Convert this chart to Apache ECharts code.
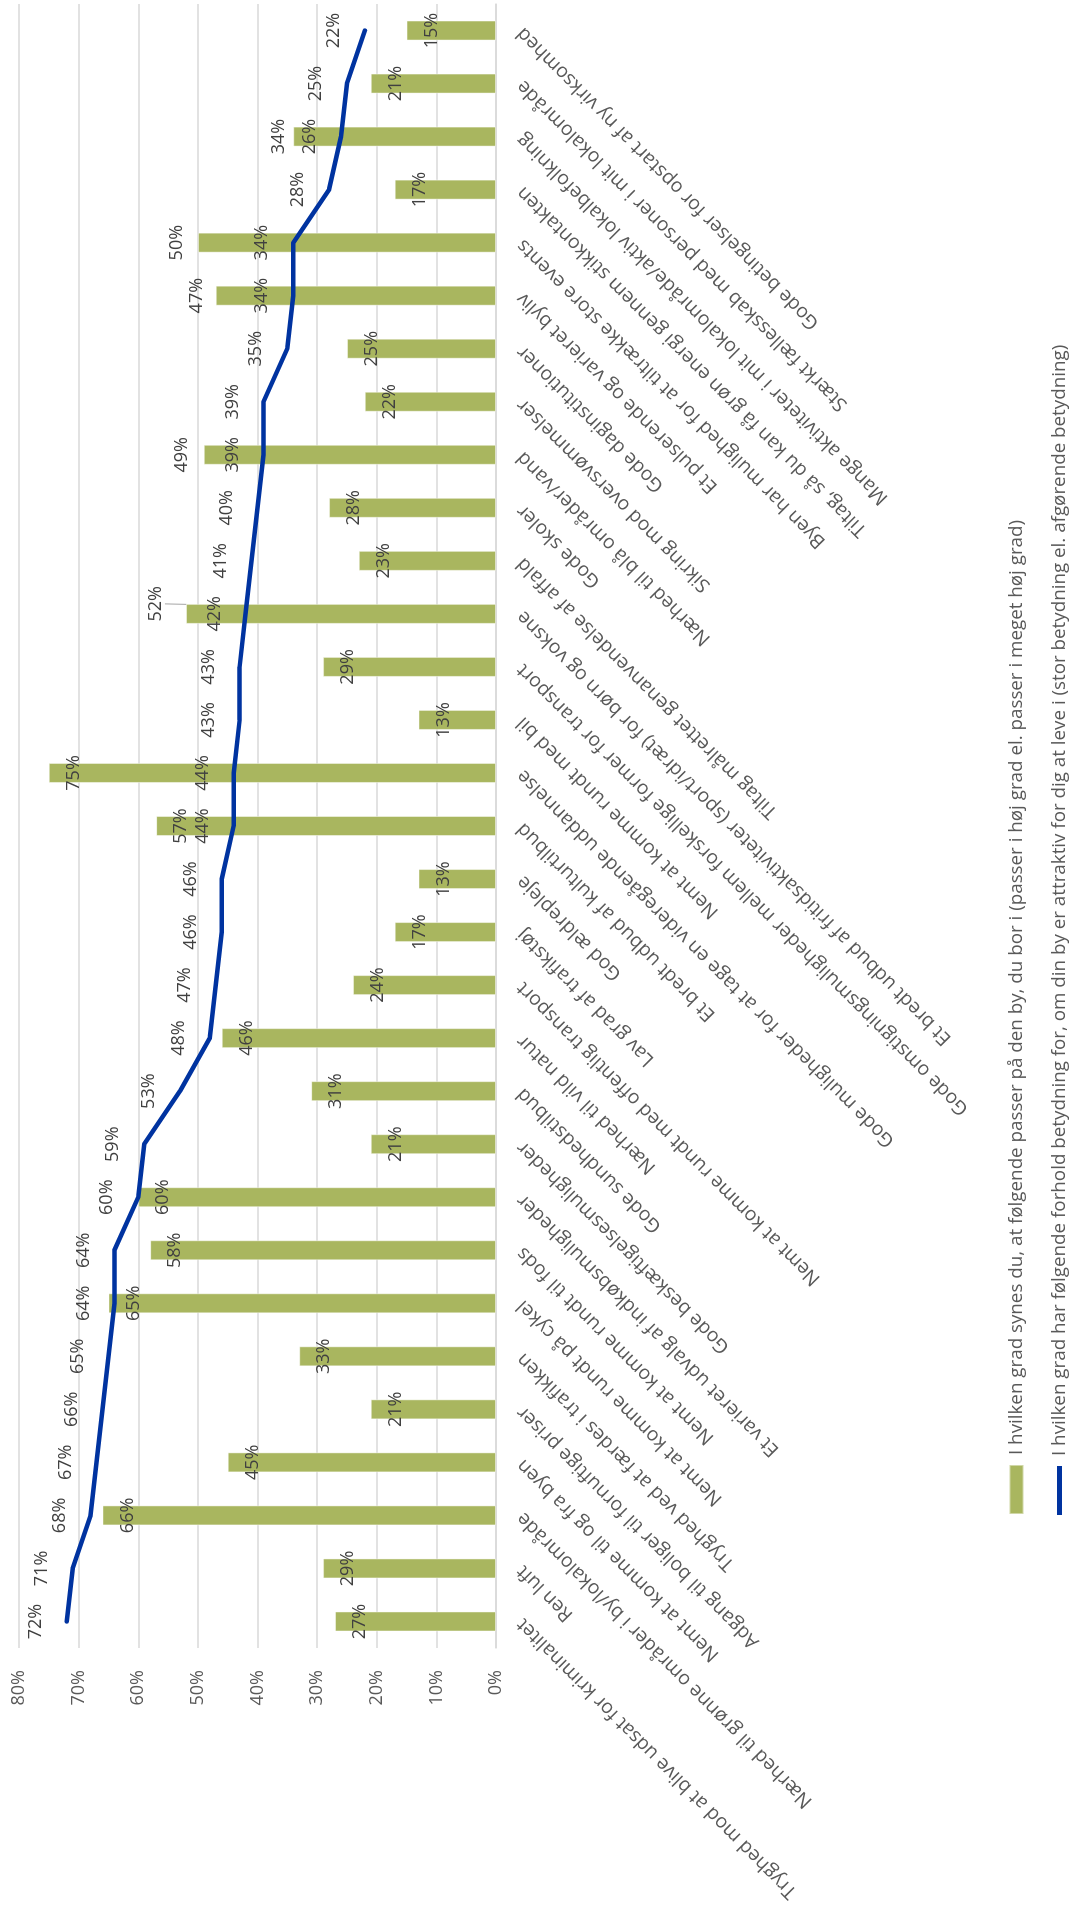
<!DOCTYPE html>
<html>
<head>
<meta charset="utf-8">
<script src="https://cdn.jsdelivr.net/npm/echarts@6/dist/echarts.min.js"></script>
<style>
html,body{margin:0;padding:0;background:#ffffff;overflow:hidden;width:1070px;height:1910px;}
#chart{position:absolute;left:0;top:0;width:1910px;height:1070px;transform-origin:0 0;transform:translate(0,1910px) rotate(-90deg);background:#ffffff;}
</style>
</head>
<body>
<div id="chart"></div>
<script>
// Data (original chart order: left to right before rotation)
const categories = [
  "Tryghed mod at blive udsat for kriminalitet",
  "Ren luft",
  "Nærhed til grønne områder i by/lokalområde",
  "Nemt at komme til og fra byen",
  "Adgang til boliger til fornuftige priser",
  "Tryghed ved at færdes i trafikken",
  "Nemt at komme rundt på cykel",
  "Nemt at komme rundt til fods",
  "Et varieret udvalg af indkøbsmuligheder",
  "Gode beskæftigelsesmuligheder",
  "Gode sundhedstilbud",
  "Nærhed til vild natur",
  "Nemt at komme rundt med offentlig transport",
  "Lav grad af trafikstøj",
  "God ældrepleje",
  "Et bredt udbud af kulturtilbud",
  "Gode muligheder for at tage en videregående uddannelse",
  "Nemt at komme rundt med bil",
  "Gode omstigningsmuligheder mellem forskellige former for transport",
  "Et bredt udbud af fritidsaktiviteter (sport/idræt) for børn og voksne",
  "Tiltag målrettet genanvendelse af affald",
  "Gode skoler",
  "Nærhed til blå områder/vand",
  "Sikring mod oversvømmelser",
  "Gode daginstitutioner",
  "Et pulserende og varieret byliv",
  "Byen har mulighed for at tiltrække store events",
  "Tiltag, så du kan få grøn energi gennem stikkontakten",
  "Mange aktiviteter i mit lokalområde/aktiv lokalbefolkning",
  "Stærkt fællesskab med personer i mit lokalområde",
  "Gode betingelser for opstart af ny virksomhed"
];
const barValues = [27, 29, 66, 45, 21, 33, 65, 58, 60, 21, 31, 46, 24, 17, 13, 57, 75, 13, 29, 52, 23, 28, 49, 22, 25, 47, 50, 17, 34, 21, 15];
const lineValues = [72, 71, 68, 67, 66, 65, 64, 64, 60, 59, 53, 48, 47, 46, 46, 44, 44, 43, 43, 42, 41, 40, 39, 39, 35, 34, 34, 28, 26, 25, 22];
const seriesNames = [
  "I hvilken grad synes du, at følgende passer på den by, du bor i (passer i høj grad el. passer i meget høj grad)",
  "I hvilken grad har følgende forhold betydning for, om din by er attraktiv for dig at leve i (stor betydning el. afgørende betydning)"
];
const axisMin = 0, axisMax = 80, axisStep = 10;

// Label placement (style only): bars whose value label sits outside the bar end
const outsideBarLabel = {19: 12, 22: 13, 25: 10, 26: 12, 28: 5};
const movedBarLabel = {19: {dx: 10, dy: -9}};

const FONT = "'Open Sans', 'Noto Sans', sans-serif";
const GREEN = '#A9B65F';
const BLUE = '#0033A0';

const barData = barValues.map((v, i) => {
  if (outsideBarLabel[i] !== undefined) {
    const item = {value: v, label: {position: 'top', distance: outsideBarLabel[i]}};
    if (movedBarLabel[i]) item.labelLine = {show: true, lineStyle: {color: '#A6A6A6', width: 1}};
    return item;
  }
  return v;
});

const legendBase = {
  orient: 'horizontal',
  left: 395,
  itemWidth: 49,
  itemHeight: 14,
  selectedMode: false,
  padding: 0,
  textStyle: {fontSize: 18.8, lineHeight: 18, color: '#595959', fontFamily: FONT, padding: [0, 0, 0, 5]}
};

const chart = echarts.init(document.getElementById('chart'), null, {renderer: 'canvas'});
chart.setOption({
  animation: false,
  backgroundColor: '#ffffff',
  textStyle: {fontFamily: FONT},
  grid: {left: 262, right: 4, top: 19, bottom: 574, containLabel: false, outerBoundsMode: 'none'},
  legend: [
    Object.assign({}, legendBase, {top: 1007, data: [{name: seriesNames[0], icon: 'rect'}]}),
    Object.assign({}, legendBase, {top: 1050, data: [{name: seriesNames[1], icon: 'path://M0,0H100V10H0Z'}]})
  ],
  xAxis: {
    type: 'category',
    data: categories,
    boundaryGap: true,
    axisLine: {show: true, lineStyle: {color: '#D9D9D9', width: 1.5}},
    axisTick: {show: false},
    splitLine: {show: false},
    axisLabel: {interval: 0, rotate: 45, margin: 24, fontSize: 19.5, color: '#595959', fontFamily: FONT, hideOverlap: false}
  },
  yAxis: {
    type: 'value',
    min: axisMin,
    max: axisMax,
    interval: axisStep,
    axisLine: {show: false},
    axisTick: {show: false},
    axisLabel: {formatter: '{value}%', fontSize: 18, color: '#595959', margin: 22, fontFamily: FONT},
    splitLine: {show: true, lineStyle: {color: '#D9D9D9', width: 1.5}}
  },
  series: [
    {
      name: seriesNames[0],
      type: 'bar',
      data: barData,
      barWidth: 20,
      itemStyle: {color: GREEN, borderColor: 'rgba(255,255,255,0.45)', borderWidth: 1},
      label: {show: true, position: 'insideTop', distance: 16, formatter: '{c}%', fontSize: 18, color: '#404040', fontFamily: FONT},
      labelLine: {show: false},
      labelLayout: function (p) {
        const m = movedBarLabel[p.dataIndex];
        return m ? {dx: m.dx, dy: m.dy} : {};
      },
      z: 2
    },
    {
      name: seriesNames[1],
      type: 'line',
      data: lineValues,
      symbol: 'circle',
      symbolSize: 2,
      showSymbol: true,
      itemStyle: {color: BLUE},
      lineStyle: {color: BLUE, width: 4.5, cap: 'round', join: 'round'},
      label: {show: true, position: 'top', distance: 21, formatter: '{c}%', fontSize: 18, color: '#404040', fontFamily: FONT},
      z: 3
    }
  ]
});
</script>
</body>
</html>
